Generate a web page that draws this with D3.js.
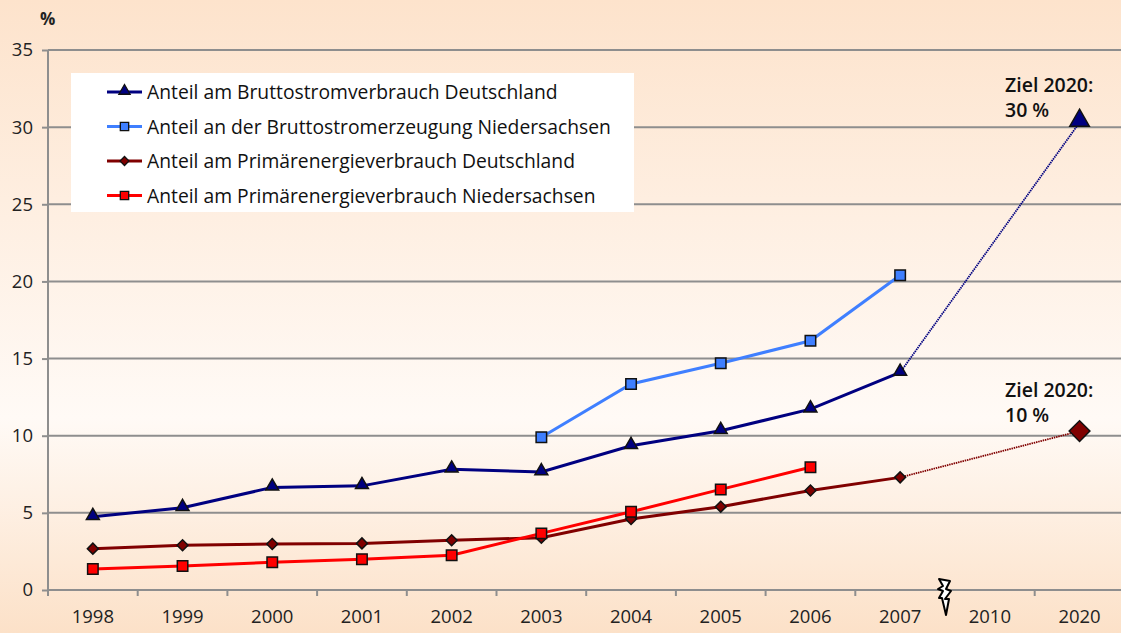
<!DOCTYPE html>
<html>
<head>
<meta charset="utf-8">
<script src="https://cdn.jsdelivr.net/npm/d3@7"></script>
<style>
  html, body { margin: 0; padding: 0; background: #fff; }
  svg { display: block; }
</style>
</head>
<body>
<script>
// Data
const years = ["1998", "1999", "2000", "2001", "2002", "2003", "2004", "2005", "2006", "2007", "2010", "2020"];
const yTicks = [0, 5, 10, 15, 20, 25, 30, 35];

const stromDE   = [4.75, 5.33, 6.65, 6.75, 7.82, 7.65, 9.35, 10.32, 11.72, 14.1, null, null];
const stromNDS  = [null, null, null, null, null, 9.9, 13.35, 14.7, 16.15, 20.4, null, null];
const primDE    = [2.68, 2.9, 2.98, 3.02, 3.22, 3.39, 4.6, 5.4, 6.45, 7.3, null, null];
const primNDS   = [1.36, 1.55, 1.8, 2.0, 2.25, 3.67, 5.07, 6.52, 7.96, null, null, null];

const zielStrom = 30.3;   // Ziel 2020: 30 %
const zielPrim  = 10.3;   // Ziel 2020: 10 %

const series = [
  {name: "Anteil am Bruttostromverbrauch Deutschland", values: stromDE, color: "#000080", symbol: "triangle"},
  {name: "Anteil an der Bruttostromerzeugung Niedersachsen", values: stromNDS, color: "#3f7fff", symbol: "square"},
  {name: "Anteil am Primärenergieverbrauch Deutschland", values: primDE, color: "#800000", symbol: "diamond"},
  {name: "Anteil am Primärenergieverbrauch Niedersachsen", values: primNDS, color: "#ff0000", symbol: "square"}
];

const width = 1121, height = 633;
const plotLeft = 48, plotTop = 50, plotBottom = 590;
const font = '"Open Sans", "DejaVu Sans", sans-serif';

const svg = d3.select("body").append("svg")
    .attr("width", width)
    .attr("height", height)
    .style("font-family", font);

// background gradient
const grad = svg.append("defs").append("linearGradient")
    .attr("id", "bg").attr("x1", 0).attr("y1", 0).attr("x2", 0).attr("y2", 1);
grad.append("stop").attr("offset", "0%").attr("stop-color", "#fde3cc");
grad.append("stop").attr("offset", "66%").attr("stop-color", "#fffaf6");
grad.append("stop").attr("offset", "100%").attr("stop-color", "#fce1c8");

svg.append("rect").attr("width", width).attr("height", height).attr("fill", "url(#bg)");

const x = d3.scaleBand()
    .domain(years)
    .range([plotLeft, plotLeft + 89.7 * years.length]);

const y = d3.scaleLinear()
    .domain([0, 35])
    .range([plotBottom, plotTop]);

const cx = d => x(d) + x.bandwidth() / 2;

// gridlines
svg.append("g")
    .selectAll("line")
    .data(yTicks.filter(d => d > 0))
    .join("line")
    .attr("x1", plotLeft).attr("x2", width)
    .attr("y1", d => y(d)).attr("y2", d => y(d))
    .attr("stroke", "#8e8e8e")
    .attr("stroke-width", 2);

// y axis
const yAxis = svg.append("g")
    .attr("transform", `translate(${plotLeft},0)`)
    .call(d3.axisLeft(y).tickValues(yTicks).tickSize(6).tickPadding(9));
yAxis.select(".domain").remove();
yAxis.selectAll(".tick line").attr("stroke", "#8e8e8e").attr("stroke-width", 2);
yAxis.selectAll(".tick text")
    .attr("font-size", 18.5).attr("font-family", font).attr("fill", "#222");
svg.append("line")
    .attr("x1", plotLeft).attr("x2", plotLeft)
    .attr("y1", y(35)).attr("y2", plotBottom + 6)
    .attr("stroke", "#8e8e8e").attr("stroke-width", 2);

// x axis
svg.append("line")
    .attr("x1", plotLeft).attr("x2", width)
    .attr("y1", plotBottom).attr("y2", plotBottom)
    .attr("stroke", "#8e8e8e").attr("stroke-width", 2);
svg.append("g")
    .selectAll("line")
    .data(years.slice(1))
    .join("line")
    .attr("x1", d => x(d)).attr("x2", d => x(d))
    .attr("y1", plotBottom).attr("y2", plotBottom + 6)
    .attr("stroke", "#8e8e8e").attr("stroke-width", 2);
svg.append("g")
    .selectAll("text")
    .data(years)
    .join("text")
    .attr("x", d => cx(d))
    .attr("y", plotBottom + 33)
    .attr("text-anchor", "middle")
    .attr("font-size", 18.5)
    .attr("fill", "#222")
    .text(d => d);

// axis break (lightning) at the boundary between 2007 and 2010
const bx = x("2010");
svg.append("path")
    .attr("transform", `translate(${bx},${plotBottom})`)
    .attr("d", "M-6,-11 L5,-9 L1,-1 L6,1 L0,9 L4,9 L1,25 L-3,8 L-6,8 L-2,1 L-7,-1 L-2,-4 Z")
    .attr("fill", "#fff")
    .attr("stroke", "#000")
    .attr("stroke-width", 2)
    .attr("stroke-linejoin", "round");

// "%" unit label
svg.append("text")
    .attr("x", 40).attr("y", 25)
    .attr("font-size", 17).attr("font-weight", 700)
    .attr("fill", "#222")
    .text("%");

// dotted extensions to the 2020 targets
const ext = [
  {from: stromDE[9], to: zielStrom, color: "#000080"},
  {from: primDE[9], to: zielPrim, color: "#800000"}
];
svg.append("g")
    .selectAll("line")
    .data(ext)
    .join("line")
    .attr("x1", cx("2007")).attr("y1", d => y(d.from))
    .attr("x2", cx("2020")).attr("y2", d => y(d.to))
    .attr("stroke", d => d.color)
    .attr("stroke-width", 1.8)
    .attr("stroke-dasharray", "1.5,0.8");

// symbols: diamonds are squares turned by 45°
function symbolPath(type, size) {
  const t = type === "triangle" ? d3.symbolTriangle : d3.symbolSquare;
  return d3.symbol().type(t).size(size)();
}
const rot = type => type === "diamond" ? " rotate(45)" : "";

const line = d3.line()
    .defined(d => d.v != null)
    .x(d => cx(d.year))
    .y(d => y(d.v));

series.forEach(s => {
  const pts = years.map((yr, i) => ({year: yr, v: s.values[i]}));
  svg.append("path")
    .datum(pts)
    .attr("fill", "none")
    .attr("stroke", s.color)
    .attr("stroke-width", 3)
    .attr("d", line);
});

const markerSize = {triangle: 72, square: 110, diamond: 60};
series.forEach(s => {
  const pts = years.map((yr, i) => ({year: yr, v: s.values[i]})).filter(d => d.v != null);
  svg.append("g")
    .selectAll("path")
    .data(pts)
    .join("path")
    .attr("transform", d => `translate(${cx(d.year)},${y(d.v) - (s.symbol === "triangle" ? 1 : 0)})${rot(s.symbol)}`)
    .attr("d", symbolPath(s.symbol, markerSize[s.symbol]))
    .attr("fill", s.color)
    .attr("stroke", "#111")
    .attr("stroke-width", 1.5);
});

// 2020 target markers
svg.append("path")
    .attr("transform", `translate(${cx("2020")},${y(zielStrom) - 2})`)
    .attr("d", symbolPath("triangle", 165))
    .attr("fill", "#000080").attr("stroke", "#111").attr("stroke-width", 1.5);
svg.append("path")
    .attr("transform", `translate(${cx("2020")},${y(zielPrim)}) rotate(45)`)
    .attr("d", symbolPath("diamond", 215))
    .attr("fill", "#800000").attr("stroke", "#111").attr("stroke-width", 1.5);

// target annotations
const notes = [
  {lines: ["Ziel 2020:", "30 %"], y: y(zielStrom) - 31},
  {lines: ["Ziel 2020:", "10 %"], y: y(zielPrim) - 34}
];
notes.forEach(n => {
  const t = svg.append("text")
    .attr("x", 1005).attr("y", n.y)
    .attr("font-size", 19.5).attr("font-weight", 600)
    .attr("fill", "#111");
  n.lines.forEach((l, i) => t.append("tspan").attr("x", 1005).attr("dy", i ? 25 : 0).text(l));
});

// legend
const lg = svg.append("g").attr("transform", "translate(71,73)");
lg.append("rect")
    .attr("width", 563).attr("height", 139)
    .attr("fill", "#fff");
const rows = lg.selectAll("g")
    .data(series)
    .join("g")
    .attr("transform", (d, i) => `translate(0,${19 + i * 34.5})`);
rows.append("line")
    .attr("x1", 36).attr("x2", 71)
    .attr("stroke", d => d.color).attr("stroke-width", 3);
rows.append("path")
    .attr("transform", d => `translate(53.5,${d.symbol === "triangle" ? -1 : 0})${rot(d.symbol)}`)
    .attr("d", d => symbolPath(d.symbol, d.symbol === "diamond" ? 40 : d.symbol === "triangle" ? 55 : 70))
    .attr("fill", d => d.color)
    .attr("stroke", "#111")
    .attr("stroke-width", 1.3);
rows.append("text")
    .attr("x", 76).attr("y", 7)
    .attr("font-size", 19.3)
    .attr("fill", "#111")
    .text(d => d.name);
</script>
</body>
</html>
